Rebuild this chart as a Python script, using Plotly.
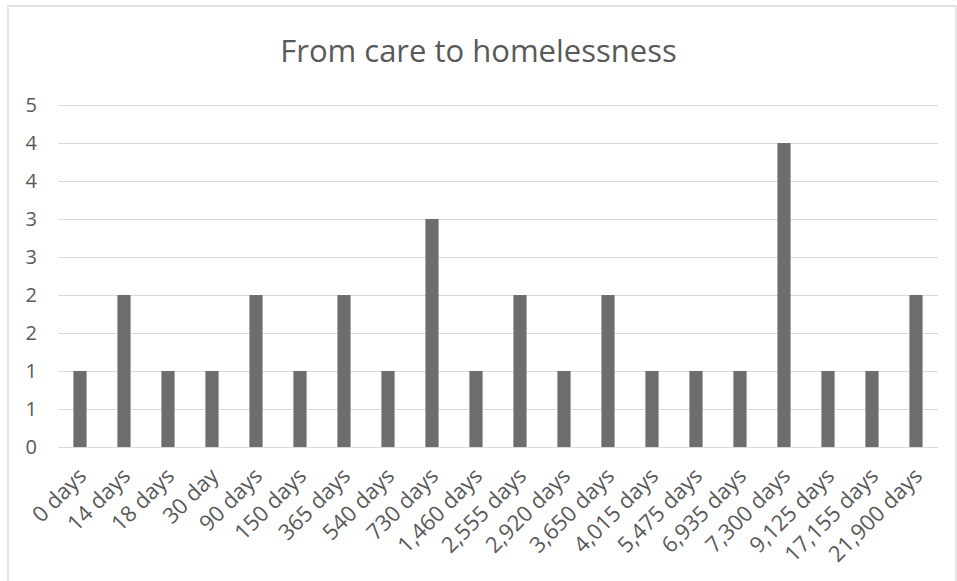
import plotly.graph_objects as go

categories = ["0 days", "14 days", "18 days", "30 day", "90 days", "150 days", "365 days",
              "540 days", "730 days", "1,460 days", "2,555 days", "2,920 days", "3,650 days",
              "4,015 days", "5,475 days", "6,935 days", "7,300 days", "9,125 days",
              "17,155 days", "21,900 days"]
values = [1, 2, 1, 1, 2, 1, 2, 1, 3, 1, 2, 1, 2, 1, 1, 1, 4, 1, 1, 2]
# y tick positions and Excel-rounded labels
ytick_vals = [0, 0.5, 1, 1.5, 2, 2.5, 3, 3.5, 4, 4.5]
ytick_text = ["0", "1", "1", "2", "2", "3", "3", "4", "4", "5"]

W, H = 957, 581
L, R, T, B = 58, 19, 103, 134
pw, ph = W - L - R, H - T - B
ymax = ph / 76.0

fig = go.Figure(go.Bar(x=categories, y=values, marker_color="#6d6d6d",
                       marker_line_width=0))

fig.update_layout(
    width=W, height=H,
    margin=dict(l=L, r=R, t=T, b=B, autoexpand=False),
    plot_bgcolor="white", paper_bgcolor="white",
    bargap=0.70,
    font=dict(family="Open Sans, Liberation Sans, sans-serif", color="#595959", size=20),
    title=dict(text="From care to homelessness", x=0.5, xanchor="center",
               y=1 - 51 / H, yanchor="middle",
               font=dict(size=31, color="#595959")),
    showlegend=False,
)
fig.update_yaxes(range=[0, ymax], tickvals=ytick_vals, ticktext=ytick_text,
                 showgrid=True, gridcolor="#d9d9d9", gridwidth=1.3,
                 zeroline=False, showline=False, ticks="", ticklabelstandoff=20,
                 tickfont=dict(size=20, color="#595959"))
fig.update_xaxes(tickangle=-45, showgrid=False, showline=True, linecolor="#d9d9d9",
                 linewidth=1.3, ticks="", ticklabelstandoff=6,
                 tickfont=dict(size=22, color="#595959"))

# outer chart border
fig.add_shape(type="rect", xref="paper", yref="paper",
              x0=(8 - L) / pw, x1=(956 - L) / pw,
              y0=-(B + 10) / ph, y1=(ph + T - 6) / ph,
              line=dict(color="#d9d9d9", width=1.3), layer="below")

fig.write_html("out.html")
